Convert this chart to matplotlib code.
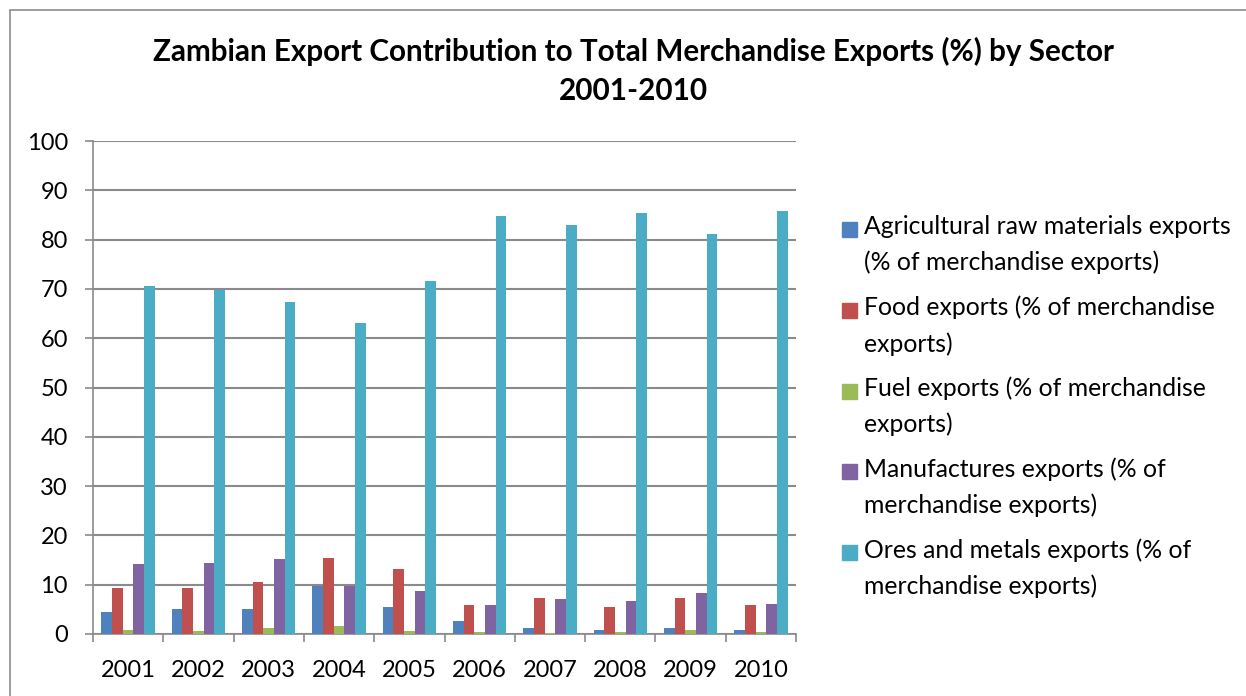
import numpy as np
import matplotlib
matplotlib.use("Agg")
import matplotlib.pyplot as plt
from matplotlib.patches import Rectangle

# Zambian export shares by sector, 2001-2010 (% of merchandise exports)
years = ["2001", "2002", "2003", "2004", "2005", "2006", "2007", "2008", "2009", "2010"]
agri = [4.4, 5.0, 5.1, 9.7, 5.4, 2.6, 1.2, 0.9, 1.2, 0.8]
food = [9.4, 9.4, 10.5, 15.5, 13.1, 5.9, 7.3, 5.5, 7.4, 5.9]
fuel = [0.8, 0.6, 1.2, 1.6, 0.6, 0.5, 0.3, 0.5, 0.75, 0.4]
manuf = [14.3, 14.4, 15.2, 9.7, 8.7, 5.8, 7.1, 6.6, 8.3, 6.1]
ores = [70.5, 69.7, 67.4, 63.1, 71.7, 84.7, 83.0, 85.3, 81.1, 85.9]

labels = [
    "Agricultural raw materials exports\n(% of merchandise exports)",
    "Food exports (% of merchandise\nexports)",
    "Fuel exports (% of merchandise\nexports)",
    "Manufactures exports (% of\nmerchandise exports)",
    "Ores and metals exports (% of\nmerchandise exports)",
]
colors = ["#4F81BD", "#C0504D", "#9BBB59", "#8064A2", "#4BACC6"]

W, H = 1246, 696
plt.rcParams["font.family"] = ["Lato", "DejaVu Sans"]


def fx(px):
    return px / W


def fy(py):
    return 1 - py / H


fig = plt.figure(figsize=(W / 100, H / 100), dpi=100)

# chart frame
fig.patches.append(Rectangle((fx(10), fy(700)), fx(1250), 690 / H,
                             transform=fig.transFigure, fill=False,
                             edgecolor="#8c8c8c", linewidth=1.2))

ax = fig.add_axes([fx(93), fy(634), fx(796 - 93), (634 - 141) / H])

series = [agri, food, fuel, manuf, ores]
x = np.arange(len(years))
bw = 0.152
for i, (vals, c) in enumerate(zip(series, colors)):
    ax.bar(x + (i - 2) * bw, vals, width=bw, color=c, zorder=3)

ax.set_xlim(-0.5, len(years) - 0.5)
ax.set_ylim(0, 100)
ax.set_yticks(np.arange(0, 101, 10))
ax.yaxis.grid(True, color="#8a8a8a", linewidth=1.5, zorder=0)

ax.set_xticks(x)
ax.set_xticklabels(years)
ax.set_xticks(np.arange(-0.5, len(years)), minor=True)
ax.tick_params(axis="x", which="major", length=0, pad=19, labelsize=17)
ax.tick_params(axis="x", which="minor", length=6, width=1.2, color="#8a8a8a")
ax.tick_params(axis="y", length=6, width=1.2, color="#8a8a8a", pad=12, labelsize=17)

for s in ["top", "right"]:
    ax.spines[s].set_visible(False)
for s in ["left", "bottom"]:
    ax.spines[s].set_color("#8a8a8a")
    ax.spines[s].set_linewidth(1.2)

fig.text(fx(633), fy(71), "Zambian Export Contribution to Total Merchandise Exports (%) by Sector\n2001-2010",
         ha="center", va="center", fontsize=21.3, fontweight="bold", linespacing=1.5)

# legend, one box per series with the label wrapped on two lines
for i, (lab, c) in enumerate(zip(labels, colors)):
    yc = 228 + i * 80.75
    fig.patches.append(Rectangle((fx(842), fy(yc + 9)), fx(15), 15 / H,
                                 transform=fig.transFigure, color=c))
    fig.text(fx(864), fy(yc - 13), lab, ha="left", va="top",
             fontsize=17.8, linespacing=1.65)

fig.savefig("out.png", dpi=100)
